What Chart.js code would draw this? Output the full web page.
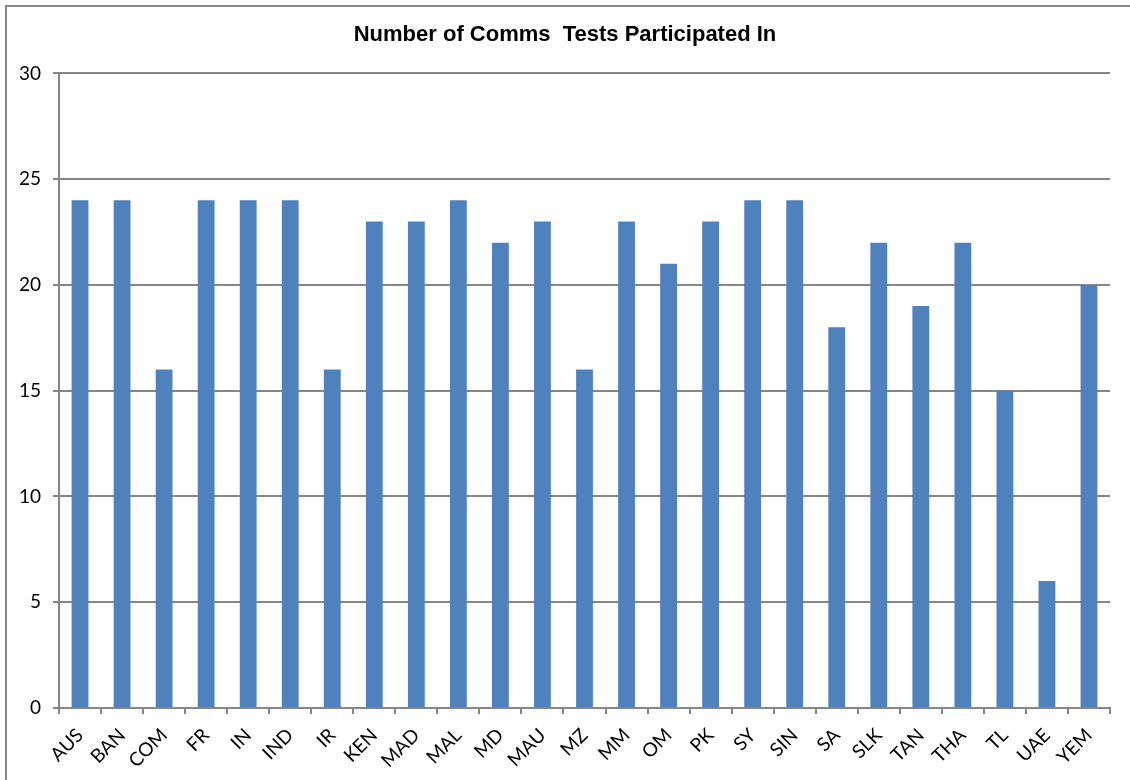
<!DOCTYPE html>
<html>
<head>
<meta charset="utf-8">
<script src="https://cdn.jsdelivr.net/npm/chart.js@4.4.1/dist/chart.umd.min.js"></script>
<style>
    html, body { margin: 0; padding: 0; background: #fff; overflow: hidden; }
    #wrap { position: relative; width: 1130px; height: 780px; }
    #frame {
        position: absolute; left: 5px; top: 5px; width: 1200px; height: 900px;
        border-left: 2px solid #868686; border-top: 2px solid #868686;
        pointer-events: none;
    }
    canvas { position: absolute; left: 0; top: 0; }
</style>
</head>
<body>
<div id="wrap">
    <canvas id="chart" width="1130" height="780"></canvas>
    <div id="frame"></div>
</div>
<script>
// Data
const countries = [
    'AUS', 'BAN', 'COM', 'FR', 'IN', 'IND', 'IR', 'KEN', 'MAD', 'MAL', 'MD', 'MAU', 'MZ',
    'MM', 'OM', 'PK', 'SY', 'SIN', 'SA', 'SLK', 'TAN', 'THA', 'TL', 'UAE', 'YEM'
];
const testsParticipated = [
    24, 24, 16, 24, 24, 24, 16, 23, 23, 24, 22, 23, 16,
    23, 21, 23, 24, 24, 18, 22, 19, 22, 15, 6, 20
];
const chartTitle = 'Number of Comms  Tests Participated In';

const gridGray = '#868686';
const barBlue = '#4F81BD';
const tickFont = { family: 'Lato, "Open Sans", sans-serif', size: 19 };

const ctx = document.getElementById('chart').getContext('2d');

new Chart(ctx, {
    type: 'bar',
    data: {
        labels: countries,
        datasets: [{
            data: testsParticipated,
            backgroundColor: barBlue,
            borderWidth: 0,
            barPercentage: 0.4,
            categoryPercentage: 1.0
        }]
    },
    options: {
        responsive: false,
        animation: false,
        layout: {
            padding: 0
        },
        plugins: {
            legend: { display: false },
            tooltip: { enabled: false },
            title: {
                display: true,
                text: chartTitle,
                color: '#000',
                font: { family: '"Liberation Sans", Arial, sans-serif', size: 22, weight: 'bold' },
                padding: { top: 22, bottom: 25 }
            }
        },
        scales: {
            x: {
                offset: true,
                grid: {
                    offset: true,
                    drawOnChartArea: false,
                    drawTicks: true,
                    tickLength: 6,
                    color: gridGray,
                    lineWidth: 2
                },
                border: { display: true, color: gridGray, width: 2 },
                ticks: {
                    color: '#000',
                    font: tickFont,
                    maxRotation: 45,
                    minRotation: 45,
                    autoSkip: false,
                    padding: 10
                },
                afterFit(scale) {
                    scale.height = 72;
                }
            },
            y: {
                min: 0,
                max: 30,
                ticks: {
                    stepSize: 5,
                    color: '#000',
                    font: tickFont,
                    padding: 12
                },
                grid: {
                    color: gridGray,
                    lineWidth: 2,
                    tickLength: 6
                },
                border: { display: true, color: gridGray, width: 2 },
                afterFit(scale) {
                    scale.width = 59;
                }
            },
            // empty right-hand spacer so the title stays centred on the whole canvas
            spacer: {
                type: 'linear',
                position: 'right',
                display: true,
                grid: { display: false, drawTicks: false },
                border: { display: false },
                ticks: { display: false },
                afterFit(scale) {
                    scale.width = 20;
                }
            }
        }
    }
});
</script>
</body>
</html>
